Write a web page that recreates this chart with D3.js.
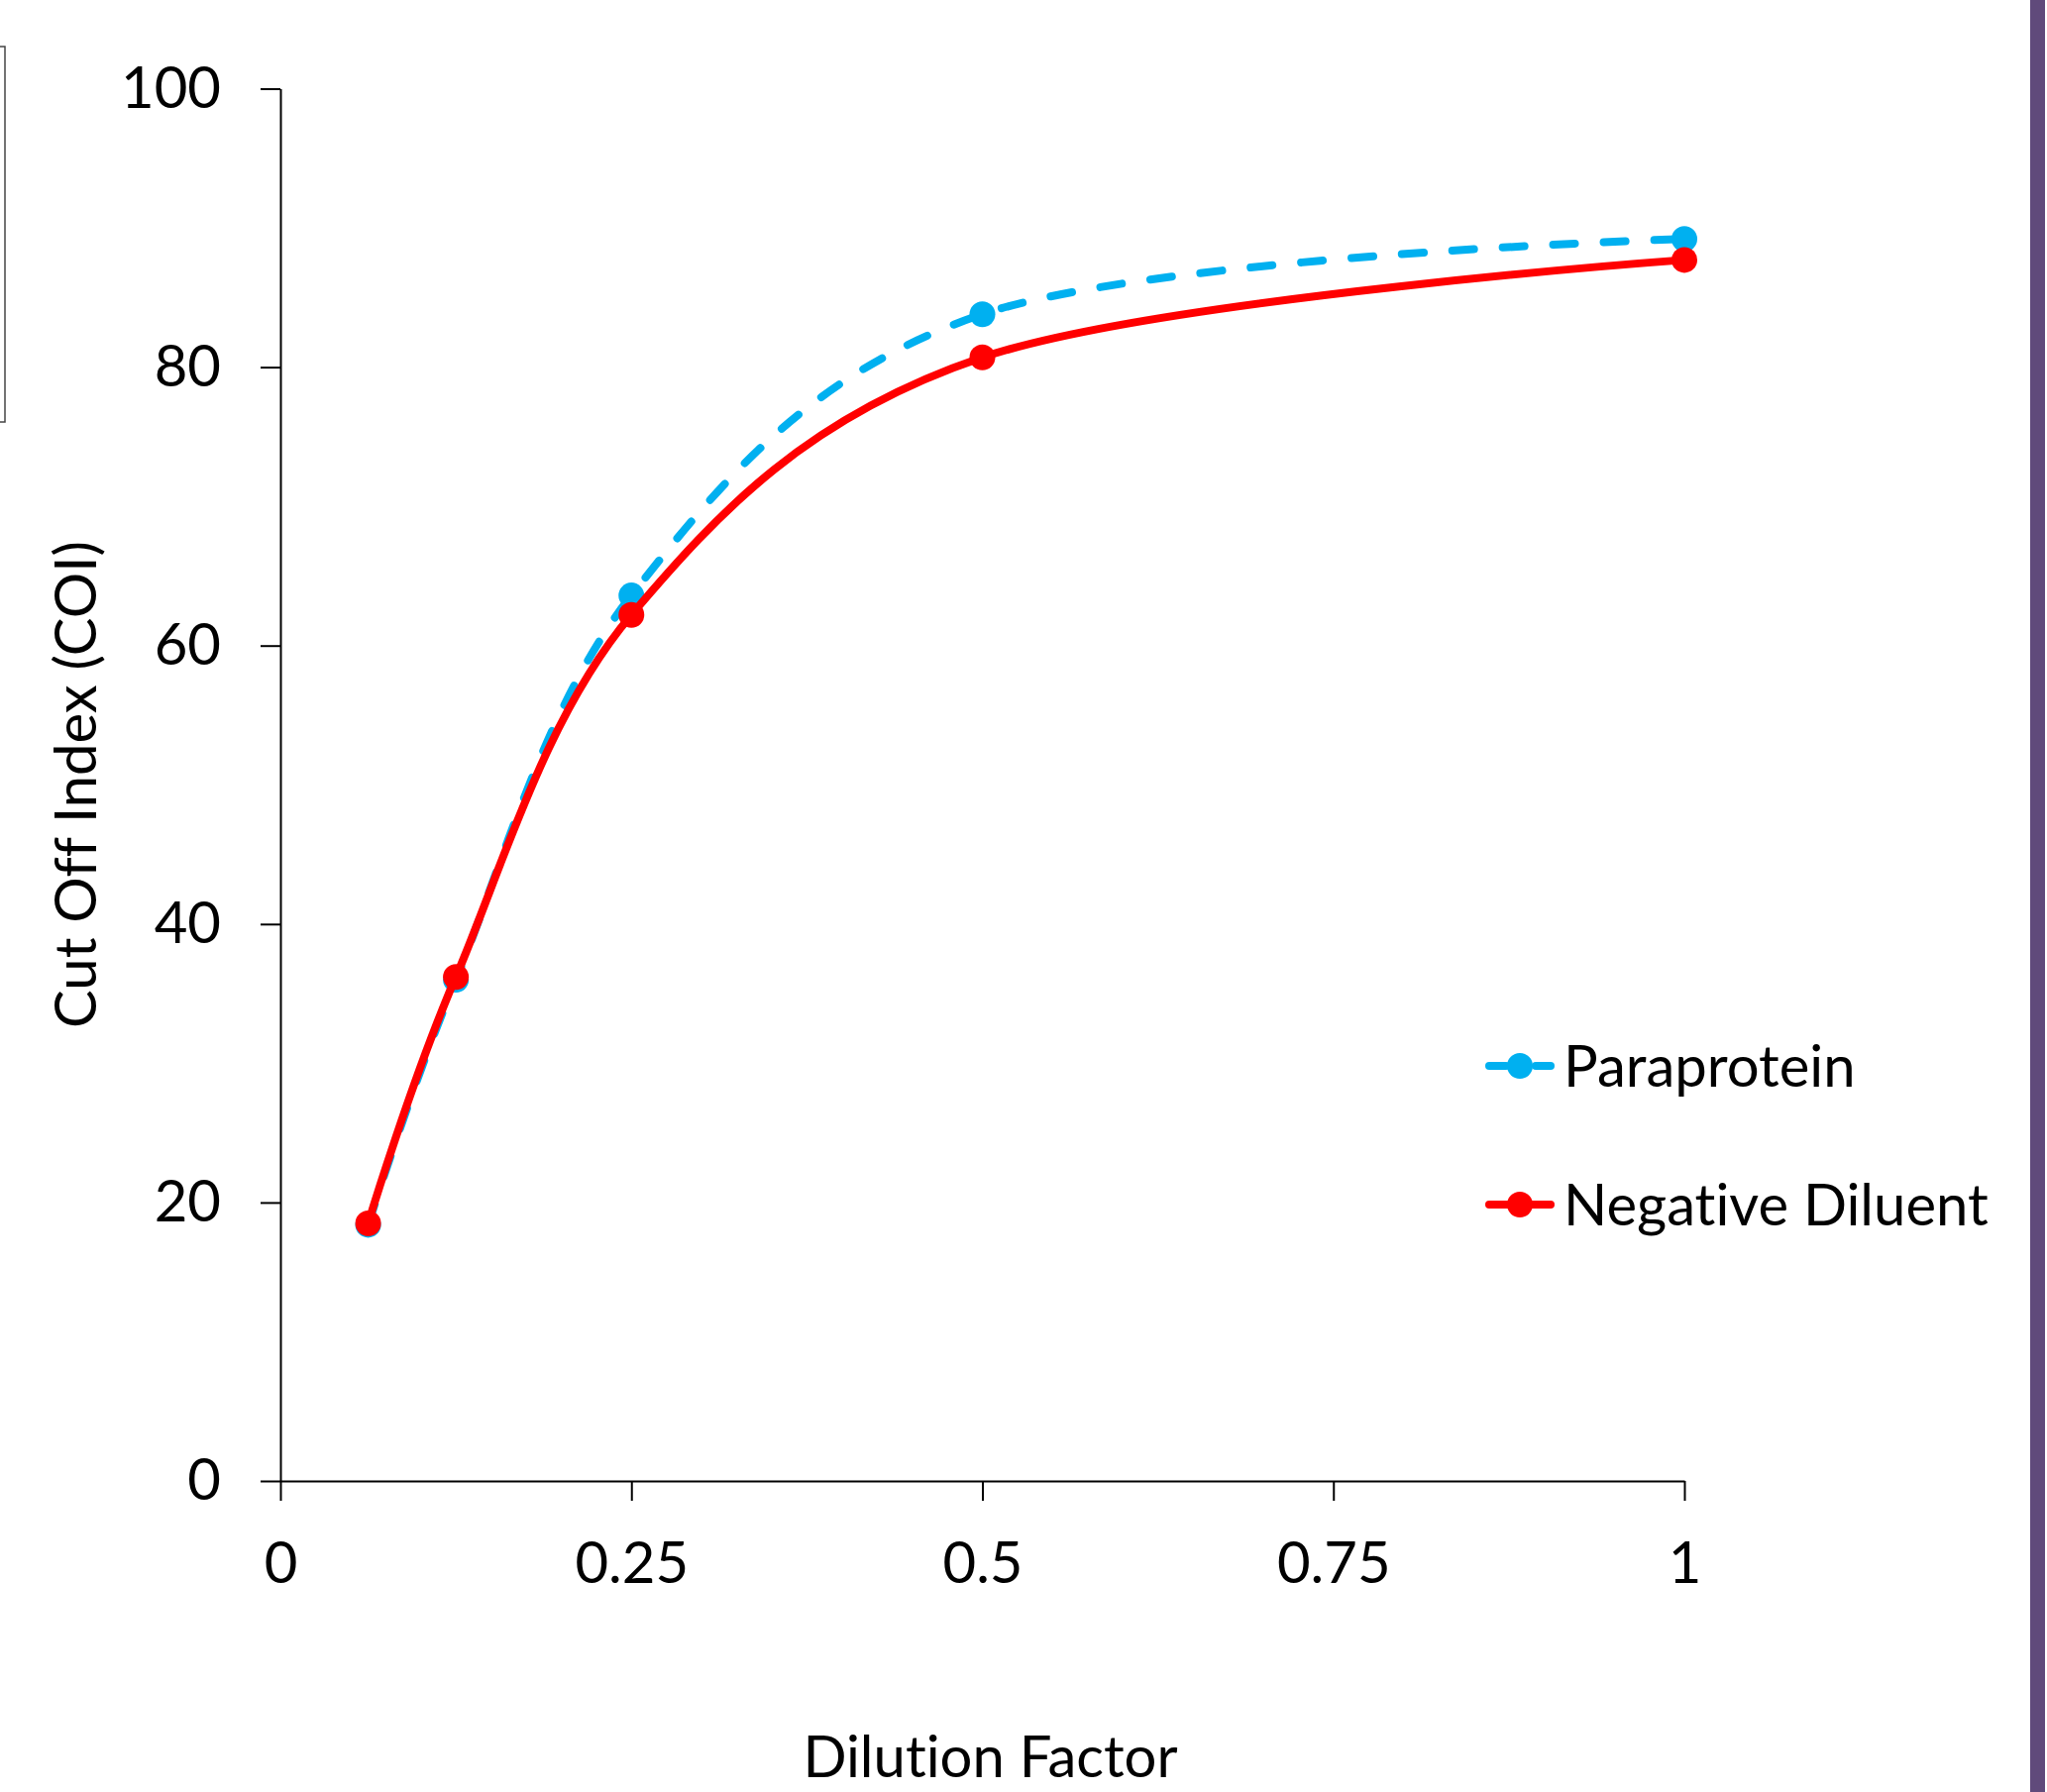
<!DOCTYPE html>
<html>
<head>
<meta charset="utf-8">
<script src="https://cdn.jsdelivr.net/npm/d3@7"></script>
<style>
  body { margin: 0; background: #fff; }
  svg { display: block; }
  text { font-family: Lato, "Open Sans", sans-serif; fill: #000; font-variant-ligatures: none; }
</style>
</head>
<body>
<div id="graph"></div>
<script>
// dilution factors and measured COI for both diluents
var dilutions = [0.0625, 0.125, 0.25, 0.5, 1];
var paraprotein = [18.4, 36.0, 63.6, 83.8, 89.2];
var negativeDiluent = [18.5, 36.2, 62.2, 80.7, 87.7];
var seriesNames = ["Paraprotein", "Negative Diluent"];
var seriesColors = ["#00b0f0", "#ff0000"];
var xTicks = [0, 0.25, 0.5, 0.75, 1];
var yTicks = [0, 20, 40, 60, 80, 100];

window.onload = start;

function start() {
    var width = 2066;
    var height = 1809;

    var svg = d3.select("#graph")
        .append("svg")
        .attr("width", width)
        .attr("height", height);

    // scales
    var x = d3.scaleLinear().domain([0, 1]).range([283, 1700]);
    var y = d3.scaleLinear().domain([0, 100]).range([1495, 89.5]);

    // bits of the slide around the chart
    svg.append("rect")
        .attr("x", -10).attr("y", 47)
        .attr("width", 15).attr("height", 379)
        .attr("fill", "none")
        .attr("stroke", "#444")
        .attr("stroke-width", 1.5);
    svg.append("rect")
        .attr("x", 2049).attr("y", 0)
        .attr("width", 15).attr("height", height)
        .attr("fill", "#604a7b");

    // axes
    var yAxis = d3.axisLeft(y)
        .tickValues(yTicks)
        .tickSize(20)
        .tickSizeOuter(0)
        .tickPadding(40);
    var gy = svg.append("g")
        .attr("transform", "translate(" + x(0) + ",0)")
        .call(yAxis);

    var xAxis = d3.axisBottom(x)
        .tickValues(xTicks)
        .tickSize(20)
        .tickSizeOuter(0)
        .tickPadding(42)
        .tickFormat(d3.format("~g"));
    var gx = svg.append("g")
        .attr("transform", "translate(0," + y(0) + ")")
        .call(xAxis);

    [gx, gy].forEach(function (g) {
        g.selectAll("path, line").attr("stroke", "#000").attr("stroke-width", 2);
        g.selectAll("text")
            .attr("font-size", 58)
            .attr("font-family", "Lato, 'Open Sans', sans-serif")
            .attr("fill", "#000");
    });

    // axis titles
    svg.append("text")
        .attr("transform", "translate(82," + 792 + ") rotate(-90)")
        .attr("text-anchor", "middle")
        .attr("dominant-baseline", "middle")
        .attr("font-size", 58)
        .text("Cut Off Index (COI)");

    svg.append("text")
        .attr("x", (x(0) + x(1)) / 2 + 8)
        .attr("y", 1794)
        .attr("text-anchor", "middle")
        .attr("font-size", 58)
        .text("Dilution Factor");

    // series lines
    var allSeries = [paraprotein, negativeDiluent];
    var line = d3.line()
        .x(function (d, i) { return x(dilutions[i]); })
        .y(function (d) { return y(d); })
        .curve(d3.curveCatmullRom.alpha(0));

    allSeries.forEach(function (vals, k) {
        var g = svg.append("g");
        g.append("path")
            .attr("d", line(vals))
            .attr("fill", "none")
            .attr("stroke", seriesColors[k])
            .attr("stroke-width", 8)
            .attr("stroke-linecap", "round")
            .attr("stroke-dasharray", k === 0 ? "22,29" : null);
        g.selectAll("circle")
            .data(vals)
            .enter()
            .append("circle")
            .attr("cx", function (d, i) { return x(dilutions[i]); })
            .attr("cy", function (d) { return y(d); })
            .attr("r", 13)
            .attr("fill", seriesColors[k]);
    });

    // legend
    var legendY = [1076, 1216];
    seriesNames.forEach(function (name, k) {
        var g = svg.append("g").attr("transform", "translate(0," + legendY[k] + ")");
        if (k === 0) {
            g.append("line").attr("x1", 1503).attr("x2", 1520).attr("y1", 0).attr("y2", 0)
                .attr("stroke", seriesColors[k]).attr("stroke-width", 8).attr("stroke-linecap", "round");
            g.append("line").attr("x1", 1550).attr("x2", 1565).attr("y1", 0).attr("y2", 0)
                .attr("stroke", seriesColors[k]).attr("stroke-width", 8).attr("stroke-linecap", "round");
        } else {
            g.append("line").attr("x1", 1503).attr("x2", 1565).attr("y1", 0).attr("y2", 0)
                .attr("stroke", seriesColors[k]).attr("stroke-width", 8).attr("stroke-linecap", "round");
        }
        g.append("circle").attr("cx", 1534).attr("cy", 0).attr("r", 13).attr("fill", seriesColors[k]);
        g.append("text")
            .attr("x", 1578)
            .attr("y", 21)
            .attr("font-size", 58)
            .text(name);
    });
}
</script>
</body>
</html>
